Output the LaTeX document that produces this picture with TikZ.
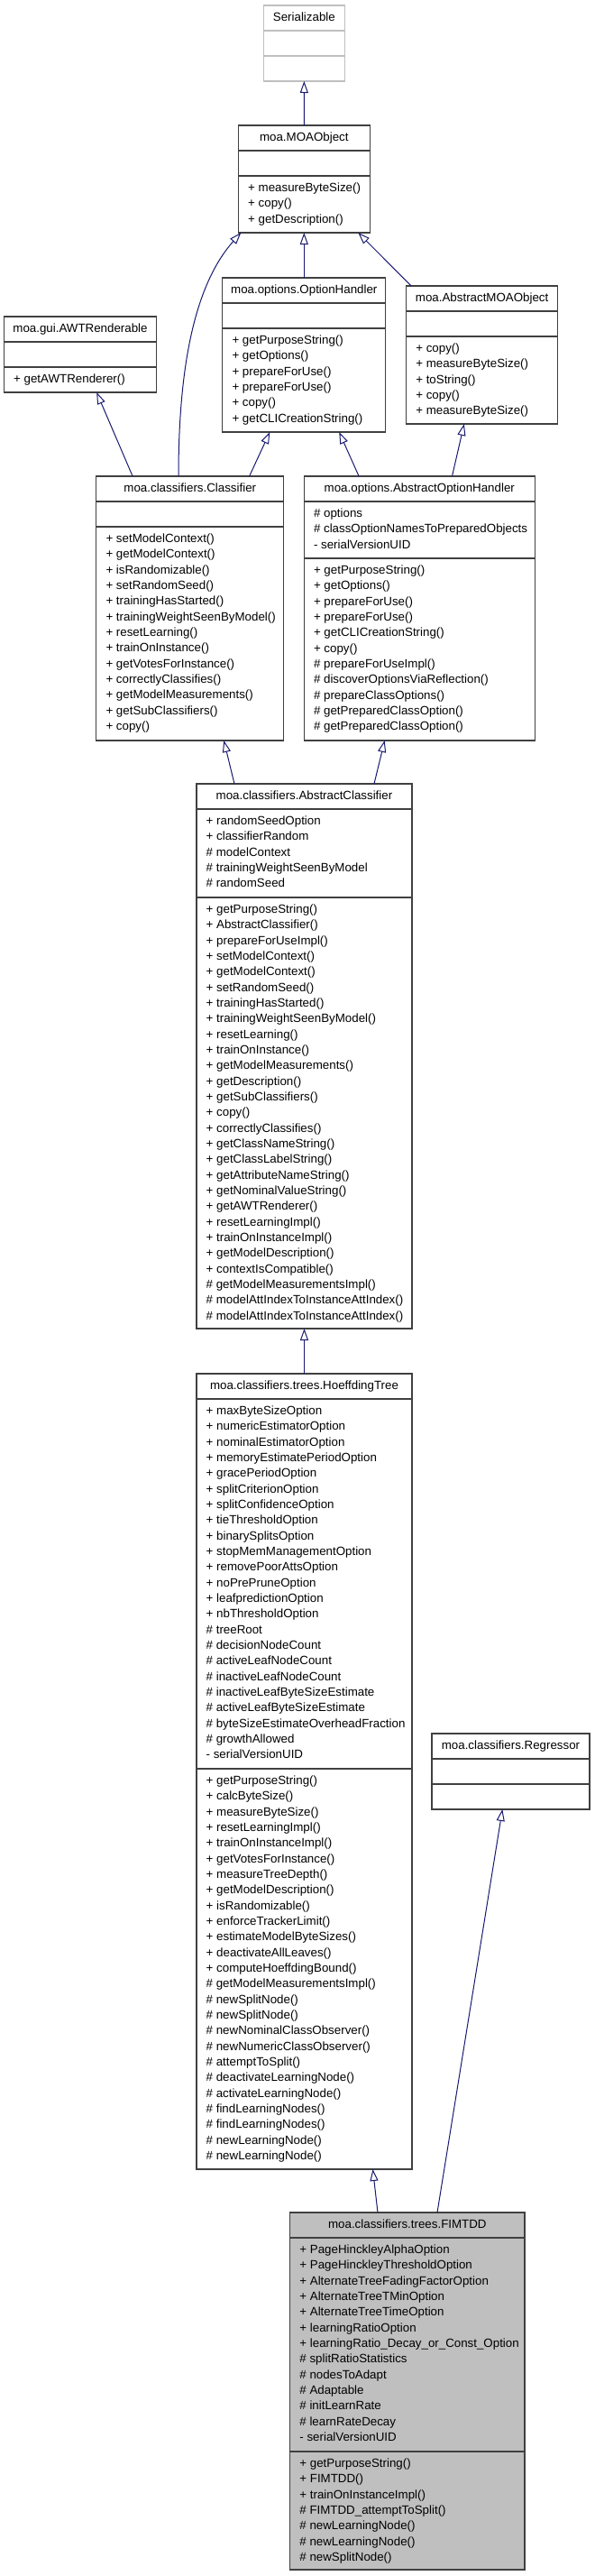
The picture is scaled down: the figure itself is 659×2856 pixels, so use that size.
\documentclass[tikz,border=0pt]{standalone}
\usepackage{fontspec}
\setmainfont{Liberation Sans}
\usetikzlibrary{arrows.meta}
\definecolor{midnightblue}{HTML}{191970}
\definecolor{grey75}{HTML}{BFBFBF}
\definecolor{boxline}{HTML}{404040}

\begin{document}
\begin{tikzpicture}[x=1pt, y=-1pt,
  font=\fontsize{13.33}{17.33}\selectfont,
  classbox/.style={draw=boxline, line width=1.2pt, fill=white, anchor=north west, inner sep=0pt, outer sep=0pt},
  extbox/.style={classbox, draw=grey75},
  divider/.style={draw=boxline, line width=1.2pt},
  classname/.style={anchor=base, inner sep=0pt},
  member/.style={anchor=base west, inner sep=0pt},
  inherit/.style={draw=midnightblue, line width=1pt, -{Triangle[open, length=13pt, width=9pt]}}]
\useasboundingbox (0,0) rectangle (659,2856);

% Serializable
\node[extbox, minimum width=89.5, minimum height=84] (serializable) at (292.6,6) {};
\draw[divider, draw=grey75] (serializable.west |- 0,34) -- (serializable.east |- 0,34);
\draw[divider, draw=grey75] (serializable.west |- 0,62) -- (serializable.east |- 0,62);
\node[classname] (serializable-name) at ([yshift=-17.5pt]serializable.north) {Serializable};

% moa.MOAObject
\node[classbox, minimum width=145.6, minimum height=119] (moaobject) at (264.5,139) {};
\draw[divider] (moaobject.west |- 0,167) -- (moaobject.east |- 0,167);
\draw[divider] (moaobject.west |- 0,195) -- (moaobject.east |- 0,195);
\node[classname] (moaobject-name) at ([yshift=-17.5pt]moaobject.north) {moa.MOAObject};
\foreach \m [count=\i from 0] in {+ measureByteSize(), + copy(), + getDescription()}
  \node[member] (moaobject-m\i) at (275,{212.5+17.33*\i}) {\m};

% moa.options.OptionHandler
\node[classbox, minimum width=181, minimum height=171] (optionhandler) at (246.8,308) {};
\draw[divider] (optionhandler.west |- 0,336) -- (optionhandler.east |- 0,336);
\draw[divider] (optionhandler.west |- 0,364) -- (optionhandler.east |- 0,364);
\node[classname] (optionhandler-name) at ([yshift=-17.5pt]optionhandler.north) {moa.options.OptionHandler};
\foreach \m [count=\i from 0] in {+ getPurposeString(), + getOptions(), + prepareForUse(),
    + prepareForUse(), + copy(), + getCLICreationString()}
  \node[member] (optionhandler-m\i) at (257.3,{381.5+17.33*\i}) {\m};

% moa.AbstractMOAObject
\node[classbox, minimum width=168.1, minimum height=153] (abstractmoaobject) at (450.6,317) {};
\draw[divider] (abstractmoaobject.west |- 0,345) -- (abstractmoaobject.east |- 0,345);
\draw[divider] (abstractmoaobject.west |- 0,373) -- (abstractmoaobject.east |- 0,373);
\node[classname] (abstractmoaobject-name) at ([yshift=-17.5pt]abstractmoaobject.north) {moa.AbstractMOAObject};
\foreach \m [count=\i from 0] in {+ copy(), + measureByteSize(), + toString(), + copy(), + measureByteSize()}
  \node[member] (abstractmoaobject-m\i) at (461.1,{390.5+17.33*\i}) {\m};

% moa.gui.AWTRenderable
\node[classbox, minimum width=169, minimum height=84] (awtrenderable) at (4.5,351) {};
\draw[divider] (awtrenderable.west |- 0,379) -- (awtrenderable.east |- 0,379);
\draw[divider] (awtrenderable.west |- 0,407) -- (awtrenderable.east |- 0,407);
\node[classname] (awtrenderable-name) at ([yshift=-17.5pt]awtrenderable.north) {moa.gui.AWTRenderable};
\node[member] (awtrenderable-m0) at (15,424.5) {+ getAWTRenderer()};

% moa.classifiers.Classifier
\node[classbox, minimum width=208, minimum height=293] (classifier) at (106.8,528) {};
\draw[divider] (classifier.west |- 0,556) -- (classifier.east |- 0,556);
\draw[divider] (classifier.west |- 0,584) -- (classifier.east |- 0,584);
\node[classname] (classifier-name) at ([yshift=-17.5pt]classifier.north) {moa.classifiers.Classifier};
\foreach \m [count=\i from 0] in {+ setModelContext(), + getModelContext(), + isRandomizable(),
    + setRandomSeed(), + trainingHasStarted(), + trainingWeightSeenByModel(), + resetLearning(),
    + trainOnInstance(), + getVotesForInstance(), + correctlyClassifies(), + getModelMeasurements(),
    + getSubClassifiers(), + copy()}
  \node[member] (classifier-m\i) at (117.3,{601.5+17.33*\i}) {\m};

% moa.options.AbstractOptionHandler
\node[classbox, minimum width=256, minimum height=293] (abstractoptionhandler) at (337.3,528) {};
\draw[divider] (abstractoptionhandler.west |- 0,556) -- (abstractoptionhandler.east |- 0,556);
\draw[divider] (abstractoptionhandler.west |- 0,619) -- (abstractoptionhandler.east |- 0,619);
\node[classname] (abstractoptionhandler-name) at ([yshift=-17.5pt]abstractoptionhandler.north) {moa.options.AbstractOptionHandler};
\foreach \m [count=\i from 0] in {\# options, \# classOptionNamesToPreparedObjects, - serialVersionUID}
  \node[member] (abstractoptionhandler-a\i) at (347.8,{573.5+17.33*\i}) {\m};
\foreach \m [count=\i from 0] in {+ getPurposeString(), + getOptions(), + prepareForUse(),
    + prepareForUse(), + getCLICreationString(), + copy(), \# prepareForUseImpl(),
    \# discoverOptionsViaReflection(), \# prepareClassOptions(), \# getPreparedClassOption(),
    \# getPreparedClassOption()}
  \node[member] (abstractoptionhandler-m\i) at (347.8,{636.5+17.33*\i}) {\m};

% moa.classifiers.AbstractClassifier
\node[classbox, minimum width=239, minimum height=604] (abstractclassifier) at (218,869) {};
\draw[divider] (abstractclassifier.west |- 0,897) -- (abstractclassifier.east |- 0,897);
\draw[divider] (abstractclassifier.west |- 0,995) -- (abstractclassifier.east |- 0,995);
\node[classname] (abstractclassifier-name) at ([yshift=-17.5pt]abstractclassifier.north) {moa.classifiers.AbstractClassifier};
\foreach \m [count=\i from 0] in {+ randomSeedOption, + classifierRandom, \# modelContext,
    \# trainingWeightSeenByModel, \# randomSeed}
  \node[member] (abstractclassifier-a\i) at (228.5,{914.5+17.33*\i}) {\m};
\foreach \m [count=\i from 0] in {+ getPurposeString(), + AbstractClassifier(), + prepareForUseImpl(),
    + setModelContext(), + getModelContext(), + setRandomSeed(), + trainingHasStarted(),
    + trainingWeightSeenByModel(), + resetLearning(), + trainOnInstance(), + getModelMeasurements(),
    + getDescription(), + getSubClassifiers(), + copy(), + correctlyClassifies(),
    + getClassNameString(), + getClassLabelString(), + getAttributeNameString(),
    + getNominalValueString(), + getAWTRenderer(), + resetLearningImpl(), + trainOnInstanceImpl(),
    + getModelDescription(), + contextIsCompatible(), \# getModelMeasurementsImpl(),
    \# modelAttIndexToInstanceAttIndex(), \# modelAttIndexToInstanceAttIndex()}
  \node[member] (abstractclassifier-m\i) at (228.5,{1012.5+17.33*\i}) {\m};

% moa.classifiers.trees.HoeffdingTree
\node[classbox, minimum width=239, minimum height=882] (hoeffdingtree) at (218,1523) {};
\draw[divider] (hoeffdingtree.west |- 0,1551) -- (hoeffdingtree.east |- 0,1551);
\draw[divider] (hoeffdingtree.west |- 0,1961) -- (hoeffdingtree.east |- 0,1961);
\node[classname] (hoeffdingtree-name) at ([yshift=-17.5pt]hoeffdingtree.north) {moa.classifiers.trees.HoeffdingTree};
\foreach \m [count=\i from 0] in {+ maxByteSizeOption, + numericEstimatorOption,
    + nominalEstimatorOption, + memoryEstimatePeriodOption, + gracePeriodOption,
    + splitCriterionOption, + splitConfidenceOption, + tieThresholdOption, + binarySplitsOption,
    + stopMemManagementOption, + removePoorAttsOption, + noPrePruneOption, + leafpredictionOption,
    + nbThresholdOption, \# treeRoot, \# decisionNodeCount, \# activeLeafNodeCount,
    \# inactiveLeafNodeCount, \# inactiveLeafByteSizeEstimate, \# activeLeafByteSizeEstimate,
    \# byteSizeEstimateOverheadFraction, \# growthAllowed, - serialVersionUID}
  \node[member] (hoeffdingtree-a\i) at (228.5,{1568.5+17.33*\i}) {\m};
\foreach \m [count=\i from 0] in {+ getPurposeString(), + calcByteSize(), + measureByteSize(),
    + resetLearningImpl(), + trainOnInstanceImpl(), + getVotesForInstance(), + measureTreeDepth(),
    + getModelDescription(), + isRandomizable(), + enforceTrackerLimit(), + estimateModelByteSizes(),
    + deactivateAllLeaves(), + computeHoeffdingBound(), \# getModelMeasurementsImpl(),
    \# newSplitNode(), \# newSplitNode(), \# newNominalClassObserver(), \# newNumericClassObserver(),
    \# attemptToSplit(), \# deactivateLearningNode(), \# activateLearningNode(),
    \# findLearningNodes(), \# findLearningNodes(), \# newLearningNode(), \# newLearningNode()}
  \node[member] (hoeffdingtree-m\i) at (228.5,{1978.5+17.33*\i}) {\m};

% moa.classifiers.Regressor
\node[classbox, minimum width=175, minimum height=84] (regressor) at (479,1922) {};
\draw[divider] (regressor.west |- 0,1950) -- (regressor.east |- 0,1950);
\draw[divider] (regressor.west |- 0,1978) -- (regressor.east |- 0,1978);
\node[classname] (regressor-name) at ([yshift=-17.5pt]regressor.north) {moa.classifiers.Regressor};

% moa.classifiers.trees.FIMTDD
\node[classbox, fill=grey75, minimum width=260.3, minimum height=396] (fimtdd) at (321.7,2453) {};
\draw[divider] (fimtdd.west |- 0,2481) -- (fimtdd.east |- 0,2481);
\draw[divider] (fimtdd.west |- 0,2718) -- (fimtdd.east |- 0,2718);
\node[classname] (fimtdd-name) at ([yshift=-17.5pt]fimtdd.north) {moa.classifiers.trees.FIMTDD};
\foreach \m [count=\i from 0] in {+ PageHinckleyAlphaOption, + PageHinckleyThresholdOption,
    + AlternateTreeFadingFactorOption, + AlternateTreeTMinOption, + AlternateTreeTimeOption,
    + learningRatioOption, + learningRatio\_Decay\_or\_Const\_Option, \# splitRatioStatistics,
    \# nodesToAdapt, \# Adaptable, \# initLearnRate, \# learnRateDecay, - serialVersionUID}
  \node[member] (fimtdd-a\i) at (332.2,{2498.5+17.33*\i}) {\m};
\foreach \m [count=\i from 0] in {+ getPurposeString(), + FIMTDD(), + trainOnInstanceImpl(),
    \# FIMTDD\_attemptToSplit(), \# newLearningNode(), \# newLearningNode(), \# newSplitNode()}
  \node[member] (fimtdd-m\i) at (332.2,{2735.5+17.33*\i}) {\m};

% inheritance
\draw[inherit] (moaobject.north) -- (serializable.south);
\draw[inherit] (optionhandler.north) -- (moaobject.south);
\draw[inherit] ([xshift=5.5pt]abstractmoaobject.north west) -- ([xshift=-12.8pt]moaobject.south east);
\draw[inherit] ([xshift=-12.8pt]classifier.north) .. controls (198,420) and (212,320) .. ([xshift=2.8pt]moaobject.south west);
\draw[inherit] ([xshift=40.3pt]classifier.north west) -- ([xshift=18.2pt]awtrenderable.south);
\draw[inherit] ([xshift=-38.2pt]classifier.north east) -- ([xshift=-38pt]optionhandler.south);
\draw[inherit] ([xshift=60.8pt]abstractoptionhandler.north west) -- ([xshift=38.9pt]optionhandler.south);
\draw[inherit] ([xshift=-91.8pt]abstractoptionhandler.north east) -- ([xshift=-19.8pt]abstractmoaobject.south);
\draw[inherit] ([xshift=42pt]abstractclassifier.north west) -- ([xshift=-66.5pt]classifier.south east);
\draw[inherit] ([xshift=-42pt]abstractclassifier.north east) -- ([xshift=-38.6pt]abstractoptionhandler.south);
\draw[inherit] (hoeffdingtree.north) -- (abstractclassifier.south);
\draw[inherit] ([xshift=97.3pt]fimtdd.north west) -- ([xshift=76pt]hoeffdingtree.south);
\draw[inherit] ([xshift=-97pt]fimtdd.north east) -- ([xshift=-9.2pt]regressor.south);
\end{tikzpicture}
\end{document}
